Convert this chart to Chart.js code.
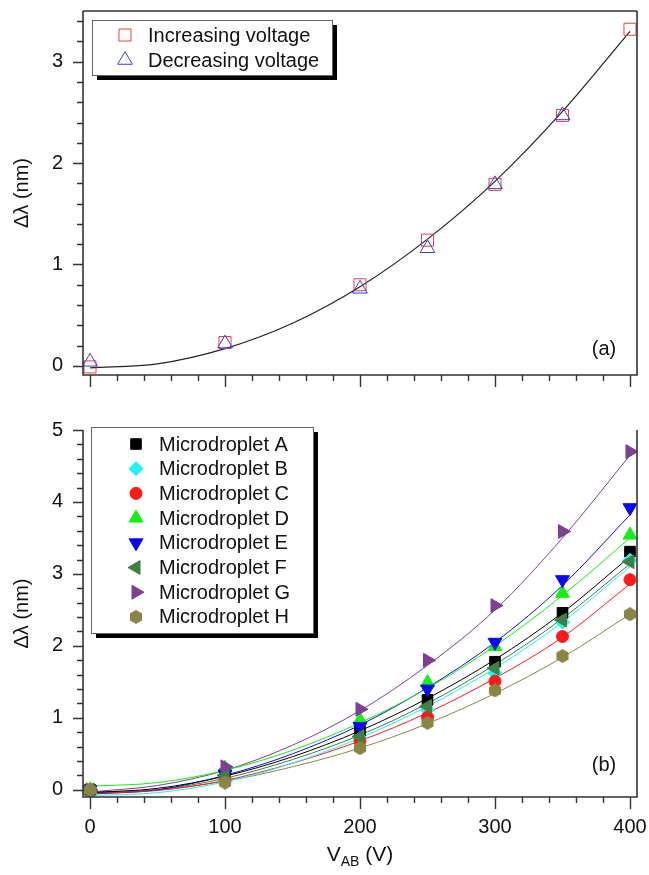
<!DOCTYPE html>
<html lang="en">
<head>
<meta charset="UTF-8">
<title>Δλ vs V_AB</title>
<script src="https://cdn.jsdelivr.net/npm/chart.js"></script>
<style>
  body { margin: 0; background: #fff; font-family: "Liberation Sans", Arial, sans-serif; }
  .wrap { position: relative; width: 649px; height: 875px; overflow: hidden; }
  #top { position: absolute; left: 0; top: 0; }
  #bottom { position: absolute; left: 0; top: 400px; }
  .xtitle { position: absolute; top: 842px; left: 0; width: 720px; text-align: center; font-size: 21px; color: #111; }
  .xtitle sub { font-size: 14px; vertical-align: -5px; }
</style>
</head>
<body>
<div class="wrap">
  <canvas id="top" width="649" height="400"></canvas>
  <canvas id="bottom" width="649" height="475"></canvas>
  <div class="xtitle">V<sub>AB</sub> (V)</div>
</div>

<script>
  // --- data ---
  const voltage = [0, 100, 200, 250, 300, 350, 400];
  const fitVoltage = [0, 50, 100, 150, 200, 250, 300, 350, 400];
  const xTicks = [0, 100, 200, 300, 400];
  const yTicksTop = [0, 1, 2, 3];
  const yTicksBottom = [0, 1, 2, 3, 4, 5];

  // panel (a)
  const increasing = [-0.01, 0.23, 0.80, 1.24, 1.79, 2.47, 3.32];
  const decreasing = [0.04, 0.22, 0.76, 1.16, 1.79, 2.47, null];
  const fitTop = [-0.02, 0.02, 0.17, 0.42, 0.78, 1.25, 1.82, 2.51, 3.30];

  // panel (b)
  const dropA = [0.00, 0.22, 0.82, 1.25, 1.78, 2.46, 3.31];
  const dropB = [0.00, 0.12, 0.72, 1.11, 1.62, 2.33, 3.19];
  const dropC = [0.00, 0.15, 0.68, 1.01, 1.51, 2.13, 2.92];
  const dropD = [0.00, 0.30, 0.97, 1.49, 1.99, 2.73, 3.54];
  const dropE = [0.00, 0.22, 0.88, 1.40, 2.05, 2.92, 3.92];
  const dropF = [0.00, 0.20, 0.74, 1.16, 1.69, 2.36, 3.17];
  const dropG = [0.00, 0.32, 1.12, 1.80, 2.56, 3.59, 4.70];
  const dropH = [0.00, 0.10, 0.58, 0.93, 1.38, 1.86, 2.44];

  const fitA = [-0.04, 0.02, 0.19, 0.46, 0.82, 1.27, 1.81, 2.46, 3.24];
  const fitB = [-0.08, -0.04, 0.11, 0.37, 0.72, 1.16, 1.69, 2.33, 3.10];
  const fitC = [-0.05, -0.01, 0.13, 0.37, 0.68, 1.07, 1.55, 2.12, 2.86];
  const fitD = [0.05, 0.10, 0.27, 0.55, 0.93, 1.41, 2.00, 2.70, 3.50];
  const fitE = [-0.06, 0.00, 0.20, 0.50, 0.90, 1.42, 2.05, 2.84, 3.82];
  const fitF = [-0.05, 0.00, 0.16, 0.42, 0.76, 1.20, 1.74, 2.38, 3.14];
  const fitG = [-0.03, 0.06, 0.27, 0.62, 1.10, 1.73, 2.50, 3.50, 4.65];
  const fitH = [-0.03, 0.00, 0.12, 0.32, 0.58, 0.92, 1.34, 1.84, 2.44];

  const FONT = '"Liberation Sans", Arial, sans-serif';
  const INK = '#111';

  function pts(xs, ys) {
    return xs.map((x, i) => ({ x: x, y: ys[i] }));
  }

  // hexagon marker for microdroplet H
  function hexagon(size, color) {
    const c = document.createElement('canvas');
    c.width = c.height = size;
    const g = c.getContext('2d');
    const r = size / 2;
    g.fillStyle = color;
    g.beginPath();
    for (let i = 0; i < 6; i++) {
      const a = -Math.PI / 2 + i * Math.PI / 3;
      const px = r + r * Math.cos(a), py = r + r * Math.sin(a);
      if (i === 0) g.moveTo(px, py); else g.lineTo(px, py);
    }
    g.closePath();
    g.fill();
    return c;
  }

  // frame + outward major/minor ticks, drawn from the chart's scales
  const frameTicks = {
    id: 'frameTicks',
    afterDraw(chart, args, o) {
      const { ctx, chartArea: a } = chart;
      const xs = chart.scales.x, ys = chart.scales.y;
      ctx.save();
      ctx.strokeStyle = '#333';
      ctx.lineWidth = 1.6;
      ctx.beginPath();
      if (o.topBorder) { ctx.moveTo(a.left, a.top); ctx.lineTo(a.right, a.top); }
      ctx.moveTo(a.left, a.top); ctx.lineTo(a.left, a.bottom);
      ctx.lineTo(a.right, a.bottom); ctx.lineTo(a.right, a.top);
      ctx.stroke();

      ctx.lineWidth = 1.4;
      ctx.beginPath();
      for (let i = 0; ; i++) {
        const v = Math.round(i * o.xMinor * 1000) / 1000;
        if (v > xs.max) break;
        const px = Math.round(xs.getPixelForValue(v)) + 0.5;
        const len = xTicks.includes(v) ? 12 : 6;
        ctx.moveTo(px, a.bottom); ctx.lineTo(px, a.bottom + len);
      }
      for (let i = 0; ; i++) {
        const v = Math.round(i * o.yMinor * 1000) / 1000;
        if (v > ys.max) break;
        const py = Math.round(ys.getPixelForValue(v)) + 0.5;
        const len = Number.isInteger(v) ? 10 : 6;
        ctx.moveTo(a.left, py); ctx.lineTo(a.left - len, py);
      }
      ctx.stroke();

      ctx.fillStyle = INK;
      ctx.font = '20px ' + FONT;
      ctx.textAlign = 'center';
      ctx.textBaseline = 'middle';
      ctx.fillText(o.tag, o.tagX, o.tagY);
      ctx.restore();
    }
  };

  // boxed legend with drop shadow
  const legendBox = {
    id: 'legendBox',
    afterDraw(chart, args, o) {
      const ctx = chart.ctx;
      ctx.save();
      ctx.fillStyle = '#000';
      ctx.fillRect(o.x + 5, o.y + 5, o.w, o.h);
      ctx.fillStyle = '#fff';
      ctx.fillRect(o.x, o.y, o.w, o.h);
      ctx.strokeStyle = '#666';
      ctx.lineWidth = 1;
      ctx.strokeRect(o.x + 0.5, o.y + 0.5, o.w, o.h);

      const entries = chart.data.datasets.filter(d => d.inLegend);
      entries.sort((p, q) => p.legendRank - q.legendRank);
      entries.forEach((d, i) => {
        const cy = o.rowY + i * o.rowH;
        ctx.fillStyle = d.pointBackgroundColor;
        ctx.strokeStyle = d.pointBorderColor;
        ctx.lineWidth = d.pointBorderWidth;
        Chart.helpers.drawPoint(ctx, {
          pointStyle: d.pointStyle,
          radius: d.pointRadius,
          rotation: d.pointRotation || 0,
          borderWidth: d.pointBorderWidth
        }, o.markerX, cy);
        ctx.fillStyle = INK;
        ctx.font = '20px ' + FONT;
        ctx.textAlign = 'left';
        ctx.textBaseline = 'middle';
        ctx.fillText(d.label, o.textX, cy + 1);
      });
      ctx.restore();
    }
  };

  function axes(yMin, yMax, yTicks, xHeight, showXLabels) {
    return {
      x: {
        type: 'linear', min: -5.2, max: 405.2,
        grid: { display: false, drawTicks: false },
        border: { display: false },
        afterBuildTicks: s => { s.ticks = xTicks.map(v => ({ value: v })); },
        afterFit: s => { s.height = xHeight; s.paddingLeft = 0; s.paddingRight = 0; },
        ticks: { display: showXLabels, font: { size: 20, family: FONT }, color: INK, padding: 18, maxRotation: 0 }
      },
      y: {
        type: 'linear', min: yMin, max: yMax,
        grid: { display: false, drawTicks: false },
        border: { display: false },
        afterBuildTicks: s => { s.ticks = yTicks.map(v => ({ value: v })); },
        afterFit: s => { s.width = 83; s.paddingTop = 0; s.paddingBottom = 0; },
        ticks: { font: { size: 20, family: FONT }, color: INK, padding: 20 },
        title: { display: true, text: 'Δλ (nm)', font: { size: 20, family: FONT }, color: INK, padding: { top: 10, bottom: 0 } }
      }
    };
  }

  // ---------- panel (a) ----------
  new Chart(document.getElementById('top'), {
    type: 'scatter',
    data: {
      datasets: [
        {
          label: 'Decreasing voltage', inLegend: true, legendRank: 1,
          data: pts(voltage, decreasing),
          pointStyle: 'triangle', pointRadius: 8.5, pointBorderWidth: 1,
          pointBackgroundColor: 'rgba(0,0,0,0)', pointBorderColor: '#3a3af0'
        },
        {
          label: 'Increasing voltage', inLegend: true, legendRank: 0,
          data: pts(voltage, increasing),
          pointStyle: 'rect', pointRadius: 8.5, pointBorderWidth: 1,
          pointBackgroundColor: 'rgba(0,0,0,0)', pointBorderColor: '#e8403c'
        },
        {
          label: 'fit', data: pts(fitVoltage, fitTop),
          showLine: true, pointRadius: 0, borderWidth: 1.2, borderColor: '#222',
          cubicInterpolationMode: 'monotone'
        }
      ]
    },
    options: {
      responsive: false, animation: false, devicePixelRatio: 1,
      layout: { padding: { left: 0, right: 12, top: 11, bottom: 0 } },
      scales: axes(-0.09, 3.5, yTicksTop, 25, false),
      plugins: {
        legend: { display: false }, tooltip: { enabled: false },
        frameTicks: { topBorder: true, xMinor: 20, yMinor: 0.2, tag: '(a)', tagX: 604, tagY: 349 },
        legendBox: { x: 92, y: 20, w: 240, h: 55, rowY: 35, rowH: 25, markerX: 125, textX: 148 }
      }
    },
    plugins: [frameTicks, legendBox]
  });

  // ---------- panel (b) ----------
  const drops = [
    { label: 'Microdroplet A', values: dropA, fit: fitA, color: '#000000', style: 'rect', radius: 7.5, rot: 0 },
    { label: 'Microdroplet B', values: dropB, fit: fitB, color: '#22f2f2', style: 'rectRot', radius: 7, rot: 0 },
    { label: 'Microdroplet C', values: dropC, fit: fitC, color: '#ff1a1a', style: 'circle', radius: 6, rot: 0 },
    { label: 'Microdroplet D', values: dropD, fit: fitD, color: '#14f014', style: 'triangle', radius: 8, rot: 0 },
    { label: 'Microdroplet E', values: dropE, fit: fitE, color: '#0a0af0', style: 'triangle', radius: 8, rot: 180 },
    { label: 'Microdroplet F', values: dropF, fit: fitF, color: '#3f8045', style: 'triangle', radius: 8, rot: 270 },
    { label: 'Microdroplet G', values: dropG, fit: fitG, color: '#7e4090', style: 'triangle', radius: 8, rot: 90 },
    { label: 'Microdroplet H', values: dropH, fit: fitH, color: '#8a8544', style: 'hex', radius: 7, rot: 0 }
  ];

  const markerSets = drops.map((d, i) => ({
    label: d.label, inLegend: true, legendRank: i,
    data: pts(voltage, d.values),
    pointStyle: d.style === 'hex' ? hexagon(14, d.color) : d.style,
    pointRadius: d.radius, pointRotation: d.rot, pointBorderWidth: 1,
    pointBackgroundColor: d.color, pointBorderColor: d.color
  }));
  const fitSets = drops.map(d => ({
    label: d.label + ' fit',
    data: pts(fitVoltage, d.fit),
    showLine: true, pointRadius: 0, borderWidth: 1, borderColor: d.color,
    cubicInterpolationMode: 'monotone'
  }));

  new Chart(document.getElementById('bottom'), {
    type: 'scatter',
    data: { datasets: markerSets.slice().reverse().concat(fitSets) },
    options: {
      responsive: false, animation: false, devicePixelRatio: 1,
      layout: { padding: { left: 0, right: 12, top: 30, bottom: 0 } },
      scales: axes(-0.1, 5.0, yTicksBottom, 78, true),
      plugins: {
        legend: { display: false }, tooltip: { enabled: false },
        frameTicks: { topBorder: false, xMinor: 20, yMinor: 0.2, tag: '(b)', tagX: 604, tagY: 365 },
        legendBox: { x: 91, y: 27, w: 222, h: 206, rowY: 44, rowH: 24.7, markerX: 136, textX: 159 }
      }
    },
    plugins: [frameTicks, legendBox]
  });
</script>
</body>
</html>
